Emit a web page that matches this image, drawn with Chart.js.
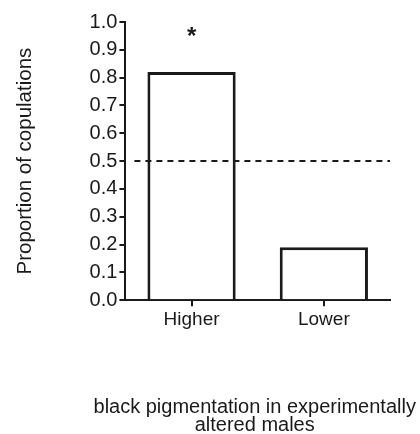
<!DOCTYPE html>
<html>
<head>
<meta charset="utf-8">
<script src="https://cdn.jsdelivr.net/npm/chart.js@4.4.0/dist/chart.umd.min.js"></script>
<style>
  html, body { margin: 0; padding: 0; background: #fff; }
  #wrap { width: 420px; height: 434px; }
</style>
</head>
<body>
<div id="wrap"><canvas id="chart" width="420" height="434"></canvas></div>
<script>
const categories = ['Higher', 'Lower'];
const proportions = [0.82, 0.19];
const marks = ['*', ''];
const chanceLevel = 0.5;
const yTicks = [0, 0.1, 0.2, 0.3, 0.4, 0.5, 0.6, 0.7, 0.8, 0.9, 1.0];
const xTitle = ['black pigmentation in experimentally', 'altered males'];

const FONT = '"Liberation Sans", Arial, sans-serif';
const INK = '#1a1a1a';

// dashed line at chance level, significance star, x title (drawn here so it isn't squeezed)
const extras = {
  id: 'extras',
  afterDatasetsDraw(chart) {
    const { ctx, chartArea, scales } = chart;
    const y = scales.y.getPixelForValue(chanceLevel);
    ctx.save();
    ctx.strokeStyle = INK;
    ctx.lineWidth = 2;
    ctx.setLineDash([6, 5]);
    ctx.beginPath();
    ctx.moveTo(chartArea.left + 9, y);
    ctx.lineTo(chartArea.right, y);
    ctx.stroke();
    ctx.setLineDash([]);

    ctx.fillStyle = INK;
    ctx.font = 'bold 24px ' + FONT;
    ctx.textAlign = 'center';
    ctx.textBaseline = 'middle';
    marks.forEach((m, i) => {
      if (!m) return;
      const x = scales.x.getPixelForValue(i);
      ctx.fillText(m, x, scales.y.getPixelForValue(0.96) + 4);
    });

    ctx.font = '20px ' + FONT;
    const cx = (chartArea.left + chartArea.right) / 2 - 3;
    xTitle.forEach((line, i) => {
      ctx.fillText(line, cx, chartArea.bottom + 107 + i * 18);
    });
    ctx.restore();
  }
};

new Chart(document.getElementById('chart'), {
  type: 'bar',
  data: {
    labels: categories,
    datasets: [{
      data: proportions,
      backgroundColor: '#fff',
      borderColor: INK,
      borderWidth: 3,
      categoryPercentage: 1,
      barPercentage: 0.667
    }]
  },
  options: {
    responsive: false,
    animation: false,
    layout: { padding: { left: 13, right: 30, top: 22, bottom: 101 } },
    plugins: { legend: { display: false }, tooltip: { enabled: false } },
    scales: {
      x: {
        grid: { display: true, drawOnChartArea: false, drawTicks: true, tickLength: 6, offset: false, color: INK, lineWidth: 2 },
        border: { display: true, color: INK, width: 2 },
        ticks: { color: INK, font: { family: FONT, size: 19 }, padding: 2 }
      },
      y: {
        min: 0,
        max: 1,
        afterBuildTicks(scale) { scale.ticks = yTicks.map(v => ({ value: v })); },
        grid: { display: true, drawOnChartArea: false, drawTicks: true, tickLength: 6, color: INK, lineWidth: 2 },
        border: { display: true, color: INK, width: 2 },
        ticks: { color: INK, font: { family: FONT, size: 20 }, padding: 2, callback: v => v.toFixed(1) },
        title: {
          display: true,
          text: 'Proportion of copulations',
          color: INK,
          font: { family: FONT, size: 20.5 },
          padding: { top: 0, bottom: 50 }
        }
      }
    }
  },
  plugins: [extras]
});
</script>
</body>
</html>
